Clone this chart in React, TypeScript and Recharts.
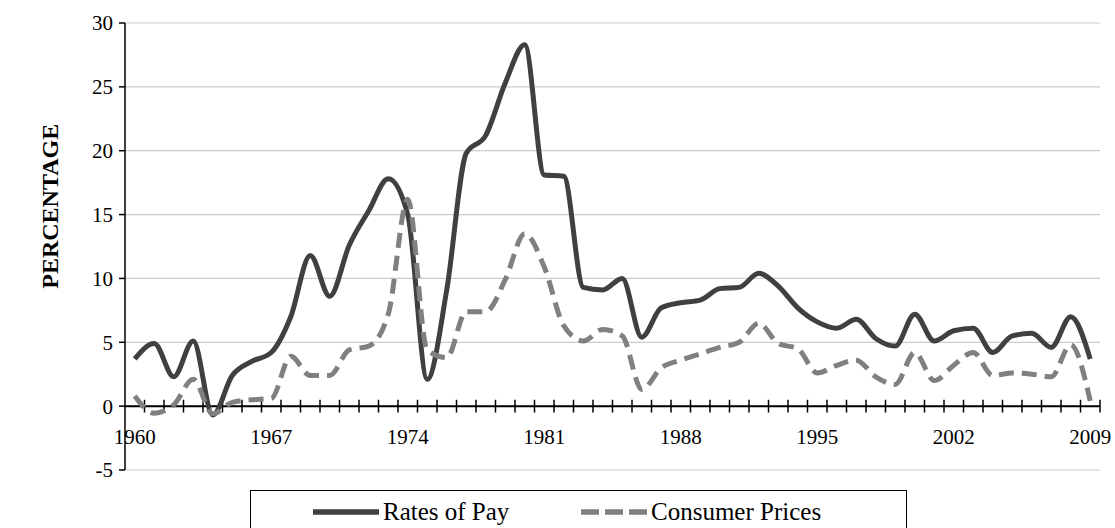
import React from "react";
import { LineChart, Line, XAxis, YAxis, CartesianGrid, ReferenceLine, Legend } from "recharts";

const YEARS = [
  1960, 1961, 1962, 1963, 1964, 1965, 1966, 1967, 1968, 1969,
  1970, 1971, 1972, 1973, 1974, 1975, 1976, 1977, 1978, 1979,
  1980, 1981, 1982, 1983, 1984, 1985, 1986, 1987, 1988, 1989,
  1990, 1991, 1992, 1993, 1994, 1995, 1996, 1997, 1998, 1999,
  2000, 2001, 2002, 2003, 2004, 2005, 2006, 2007, 2008, 2009,
];

const RATES_OF_PAY = [
  3.7, 4.9, 2.3, 5.1, -0.7, 2.4, 3.5, 4.2, 7.0, 11.8,
  8.6, 12.6, 15.3, 17.8, 15.0, 2.1, 9.1, 19.8, 21.2, 25.3,
  28.3, 18.1, 18.0, 9.3, 9.1, 10.0, 5.4, 7.7, 8.1, 8.3,
  9.2, 9.3, 10.4, 9.4, 7.7, 6.6, 6.1, 6.8, 5.3, 4.7,
  7.2, 5.1, 5.9, 6.1, 4.2, 5.5, 5.7, 4.6, 7.0, 3.7,
];

const CONSUMER_PRICES = [
  0.8, -0.55, 0.1, 2.1, -0.6, 0.3, 0.5, 0.6, 3.9, 2.4,
  2.4, 4.4, 4.7, 7.2, 16.2, 4.4, 3.8, 7.4, 7.4, 9.9,
  13.5, 10.9, 6.3, 5.1, 6.0, 5.5, 1.3, 3.0, 3.6, 4.1,
  4.6, 5.0, 6.5, 4.9, 4.5, 2.6, 3.2, 3.6, 2.3, 1.7,
  4.2, 2.0, 3.2, 4.2, 2.4, 2.6, 2.5, 2.3, 4.8, 0.4,
];

const SERIES_NAMES = ["Rates of Pay", "Consumer Prices"];
const X_LABELS = [1960, 1967, 1974, 1981, 1988, 1995, 2002, 2009];
const Y_TICKS = [-5, 0, 5, 10, 15, 20, 25, 30];

const W = 1115;
const H = 528;
const MARGIN = { top: 23, right: 15, left: 65, bottom: 28 };
const X_AXIS_H = 30;
const PLOT_H = H - MARGIN.top - MARGIN.bottom - X_AXIS_H;
const Y_MIN = -5;
const Y_MAX = 30;
// the category axis sits at y = 0, not at the bottom of the plot
const ZERO_LIFT = (PLOT_H * (0 - Y_MIN)) / (Y_MAX - Y_MIN);

const FONT = "'Liberation Serif', 'Times New Roman', serif";
const PAY_COLOR = "#404040";
const CPI_COLOR = "#808080";
const CPI_DASH = "15 8";

const data = YEARS.map((year, i) => ({
  year,
  pay: RATES_OF_PAY[i],
  cpi: CONSUMER_PRICES[i],
}));

// tick marks sit between the yearly categories
const BOUNDS = YEARS.map((y) => y + 0.5);

function YearTick(props: any) {
  const { x, y, payload } = props;
  return (
    <text
      x={x}
      y={y - ZERO_LIFT + 38}
      textAnchor="middle"
      style={{ fontFamily: FONT, fontSize: 21 }}
      fill="#000"
    >
      {payload.value}
    </text>
  );
}

function YTitle(props: any) {
  const vb = props.viewBox || { x: MARGIN.left, y: MARGIN.top, width: 60, height: PLOT_H };
  const cx = vb.x - 15;
  const cy = vb.y + vb.height * 0.41;
  return (
    <text
      x={cx}
      y={cy}
      transform={`rotate(-90, ${cx}, ${cy})`}
      textAnchor="middle"
      dominantBaseline="central"
      style={{ fontFamily: FONT, fontSize: 24, fontWeight: "bold" }}
      fill="#000"
    >
      PERCENTAGE
    </text>
  );
}

const LEGEND_X = [62, 330];

function LegendBox({ payload }: any) {
  const items = SERIES_NAMES.map((n) => (payload || []).find((p: any) => p.value === n)).filter(Boolean);
  return (
    <div
      style={{
        position: "relative",
        width: 657,
        height: 44,
        boxSizing: "border-box",
        border: "1.5px solid #000",
        background: "#fff",
        fontFamily: FONT,
        fontSize: 25,
        color: "#000",
      }}
    >
      {items.map((item: any, i: number) => (
        <div
          key={item.value}
          style={{ position: "absolute", left: LEGEND_X[i], top: 0, height: 41, display: "flex", alignItems: "center" }}
        >
          <svg width={66} height={10} style={{ marginRight: 4 }}>
            <line
              x1={0}
              y1={5}
              x2={66}
              y2={5}
              stroke={item.color}
              strokeWidth={5.5}
              strokeDasharray={item.value === SERIES_NAMES[1] ? "18 6" : undefined}
            />
          </svg>
          <span>{item.value}</span>
        </div>
      ))}
    </div>
  );
}

export default function App() {
  return (
    <div
      style={{
        position: "absolute",
        left: 0,
        top: 0,
        width: W,
        height: H,
        overflow: "hidden",
        background: "#fff",
        fontFamily: FONT,
      }}
    >
      <LineChart width={W} height={H} data={data} margin={MARGIN}>
        <CartesianGrid vertical={false} stroke="#cccccc" strokeWidth={1.2} />
        <XAxis
          dataKey="year"
          type="number"
          domain={[1959.5, 2009.5]}
          ticks={X_LABELS}
          interval={0}
          tick={(p: any) => <YearTick {...p} />}
          tickLine={false}
          axisLine={false}
          tickSize={0}
          tickMargin={0}
          height={X_AXIS_H}
        />
        <YAxis
          domain={[Y_MIN, Y_MAX]}
          ticks={Y_TICKS}
          interval={0}
          width={60}
          tickSize={6}
          tickMargin={6}
          axisLine={{ stroke: "#000", strokeWidth: 1.5 }}
          tickLine={{ stroke: "#000", strokeWidth: 1.5 }}
          tick={{ fill: "#000", fontSize: 21, fontFamily: FONT, style: { fontFamily: FONT } }}
          label={<YTitle />}
        />
        <ReferenceLine y={0} stroke="#000" strokeWidth={2} />
        {BOUNDS.map((b) => (
          <ReferenceLine
            key={b}
            segment={[
              { x: b, y: -0.5 },
              { x: b, y: 0.5 },
            ]}
            stroke="#000"
            strokeWidth={1.5}
          />
        ))}
        <Line
          type="monotone"
          dataKey="pay"
          name={SERIES_NAMES[0]}
          stroke={PAY_COLOR}
          strokeWidth={5}
          dot={false}
          isAnimationActive={false}
        />
        <Line
          type="monotone"
          dataKey="cpi"
          name={SERIES_NAMES[1]}
          stroke={CPI_COLOR}
          strokeWidth={5}
          strokeDasharray={CPI_DASH}
          dot={false}
          isAnimationActive={false}
        />
        <Legend
          layout="horizontal"
          verticalAlign="middle"
          align="center"
          wrapperStyle={{ left: 250, top: 490, width: 657 }}
          content={(p: any) => <LegendBox {...p} />}
        />
      </LineChart>
    </div>
  );
}
